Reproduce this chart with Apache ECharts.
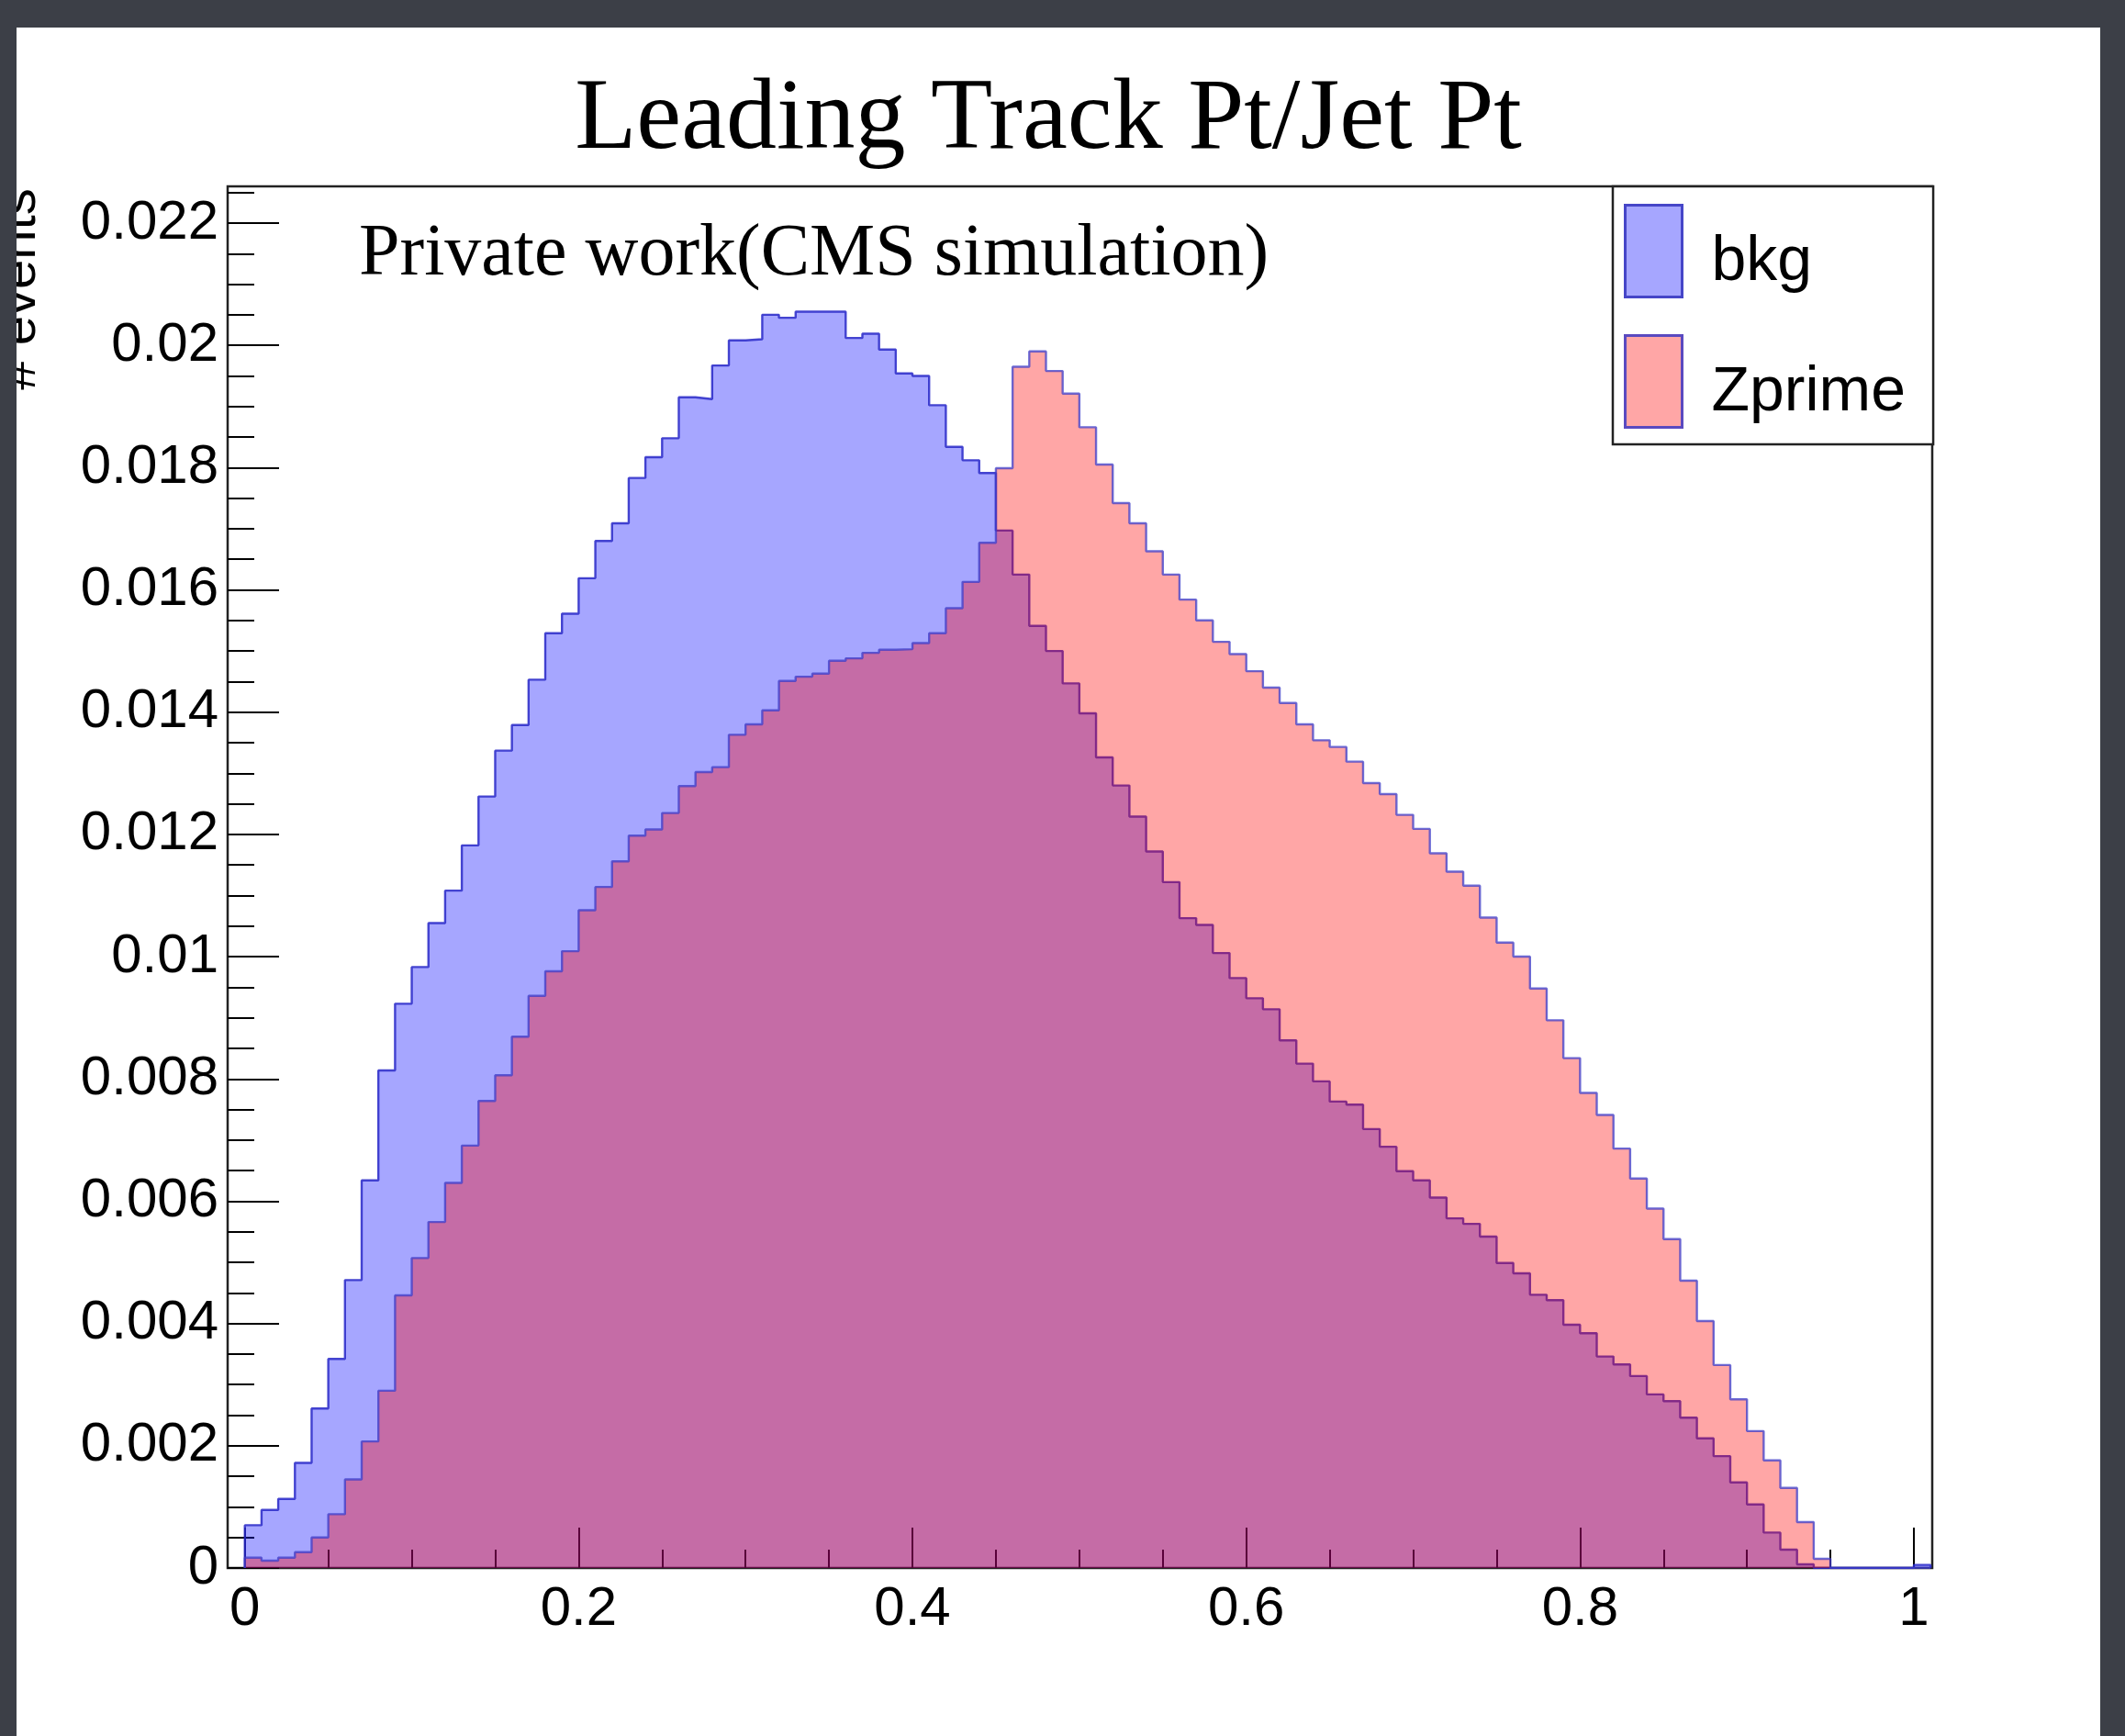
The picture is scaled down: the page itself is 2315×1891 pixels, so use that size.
<!DOCTYPE html>
<html><head><meta charset="utf-8">
<script src="https://cdn.jsdelivr.net/npm/echarts@6/dist/echarts.min.js"></script>
<style>html,body{margin:0;padding:0;background:#fff}#chart{width:2315px;height:1891px}</style>
</head><body><div id="chart"></div>
<script>
// histogram: 101 bins of width 0.01 starting at 0 (last bin is 1.00-1.01)
const binWidth = 0.01;
const bkg = [0.0007,0.00095,0.00113,0.00172,0.00261,0.00342,0.00471,0.00634,0.00814,0.00923,
0.00983,0.01055,0.01108,0.01182,0.01262,0.01337,0.01379,0.01453,0.01529,0.01561,
0.01619,0.0168,0.01709,0.01783,0.01817,0.01848,0.01915,0.01912,0.01967,0.02008,
0.0201,0.0205,0.02045,0.02055,0.02055,0.02055,0.02012,0.02019,0.01993,0.01954,
0.0195,0.01902,0.01834,0.01812,0.01791,0.01697,0.01625,0.01541,0.015,0.01447,
0.01398,0.01326,0.0128,0.01229,0.01172,0.01122,0.01063,0.01052,0.01006,0.00965,
0.00932,0.00914,0.00863,0.00825,0.00796,0.00763,0.00758,0.00718,0.00689,0.00649,
0.00634,0.00606,0.00572,0.00563,0.00542,0.00499,0.00482,0.00447,0.00438,0.00398,
0.00384,0.00346,0.00333,0.00314,0.00284,0.00273,0.00246,0.00212,0.00183,0.0014,
0.00104,0.00058,0.0003,0.00006,0,0,0,0,0,0,
0.00005];
const zprime = [0.00017,0.00012,0.00017,0.00026,0.0005,0.00088,0.00145,0.00207,0.0029,0.00446,
0.00507,0.00566,0.0063,0.00691,0.00764,0.00806,0.00869,0.00936,0.00976,0.01009,
0.01076,0.01114,0.01156,0.01198,0.01208,0.01235,0.01279,0.01302,0.0131,0.01363,
0.0138,0.01403,0.01451,0.01458,0.01463,0.01484,0.01488,0.01497,0.01502,0.01503,
0.01513,0.01529,0.0157,0.01613,0.01677,0.01799,0.01965,0.0199,0.01958,0.01921,
0.01866,0.01805,0.01742,0.01709,0.01663,0.01625,0.01584,0.0155,0.01515,0.01495,
0.01467,0.0144,0.01415,0.0138,0.01354,0.01343,0.01319,0.01284,0.01266,0.01232,
0.01209,0.01169,0.01139,0.01116,0.01064,0.01023,0.01,0.00948,0.00896,0.00834,
0.00777,0.00741,0.00686,0.00637,0.00588,0.00538,0.0047,0.00404,0.00332,0.00276,
0.00224,0.00176,0.00131,0.00075,0.00015,0,0,0,0,0,
0];
const xMajorTicks = [0, 0.2, 0.4, 0.6, 0.8, 1];
const xMinorTicks = [0.05,0.1,0.15,0.25,0.3,0.35,0.45,0.5,0.55,0.65,0.7,0.75,0.85,0.9,0.95];
const yMajorTicks = [0,0.002,0.004,0.006,0.008,0.01,0.012,0.014,0.016,0.018,0.02,0.022];
const yMinorTicks = [];
yMajorTicks.forEach(t => { for (let k = 1; k <= 3; k++) yMinorTicks.push(+(t + k * 0.0005).toFixed(5)); });
yMinorTicks.push(0.0225);

function toSteps(vals) {
  const pts = [[0, 0]];
  vals.forEach((v, i) => pts.push([+(i * binWidth).toFixed(2), v]));
  pts.push([+(vals.length * binWidth).toFixed(2), 0]);
  return pts;
}
const fmt = v => (v === 0 ? '0' : String(+(+v).toFixed(4)));
const SANS = '"Liberation Sans", Arial, sans-serif';
const SERIF = '"Liberation Serif", "Times New Roman", serif';
const X_MIN = -0.0103, X_MAX = 1.011, Y_MAX = 0.0226;

const chart = echarts.init(document.getElementById('chart'), null, {renderer: 'canvas'});
chart.setOption({
  animation: false,
  backgroundColor: '#ffffff',
  grid: {left: 248, top: 203, width: 1857, height: 1505, show: true, borderColor: '#222', borderWidth: 2.5, backgroundColor: 'transparent', containLabel: false},
  xAxis: [
    {type: 'value', min: X_MIN, max: X_MAX, position: 'bottom', splitLine: {show: false}, axisLine: {show: false, onZero: false},
     axisTick: {show: true, inside: true, length: 44, customValues: xMajorTicks, lineStyle: {color: '#000', width: 2}},
     axisLabel: {show: true, customValues: xMajorTicks, formatter: fmt, margin: 15, fontFamily: SANS, fontSize: 60, color: '#000'}},
    {type: 'value', min: X_MIN, max: X_MAX, position: 'bottom', splitLine: {show: false}, axisLine: {show: false, onZero: false},
     axisTick: {show: true, inside: true, length: 20, customValues: xMinorTicks, lineStyle: {color: '#000', width: 2}},
     axisLabel: {show: false}}
  ],
  yAxis: [
    {type: 'value', min: 0, max: Y_MAX, position: 'left', splitLine: {show: false}, axisLine: {show: false, onZero: false},
     axisTick: {show: true, inside: true, length: 56, customValues: yMajorTicks, lineStyle: {color: '#000', width: 2}},
     axisLabel: {show: true, customValues: yMajorTicks, formatter: fmt, margin: 10, fontFamily: SANS, fontSize: 60, color: '#000'}},
    {type: 'value', min: 0, max: Y_MAX, position: 'left', offset: 0, splitLine: {show: false}, axisLine: {show: false, onZero: false},
     axisTick: {show: true, inside: true, length: 29, customValues: yMinorTicks, lineStyle: {color: '#000', width: 2}},
     axisLabel: {show: false}}
  ],
  legend: {
    orient: 'vertical', left: 1757, top: 203, selectedMode: false,
    padding: [19, 30, 17, 12], itemWidth: 62, itemHeight: 100, itemGap: 39,
    backgroundColor: '#fff', borderColor: '#222', borderWidth: 2.5,
    formatter: '{t|{name}}',
    textStyle: {fontFamily: SANS, fontSize: 68, color: '#000', padding: [0, 0, 0, 27],
      rich: {t: {fontFamily: SANS, fontSize: 68, color: '#000', padding: [25, 0, 0, 0]}}},
    data: [
      {name: 'bkg', icon: 'rect', itemStyle: {color: 'rgba(0,0,255,0.35)', borderColor: '#4646c8', borderWidth: 3}},
      {name: 'Zprime', icon: 'rect', itemStyle: {color: 'rgba(255,0,0,0.35)', borderColor: '#5a4ac0', borderWidth: 3}}
    ]
  },
  series: [
    {name: 'bkg', type: 'line', step: 'end', xAxisIndex: 0, yAxisIndex: 0, data: toSteps(bkg), showSymbol: false, symbol: 'none',
     lineStyle: {color: 'rgba(40,40,200,0.85)', width: 2.4}, itemStyle: {color: 'rgba(0,0,255,0.35)'},
     areaStyle: {color: 'rgba(0,0,255,0.35)', opacity: 1}, z: 2},
    {name: 'Zprime', type: 'line', step: 'end', xAxisIndex: 0, yAxisIndex: 0, data: toSteps(zprime), showSymbol: false, symbol: 'none',
     lineStyle: {color: 'rgba(60,60,200,0.75)', width: 2.4}, itemStyle: {color: 'rgba(255,0,0,0.35)'},
     areaStyle: {color: 'rgba(255,0,0,0.35)', opacity: 1}, z: 3}
  ],
  graphic: [
    {type: 'text', x: 1142, y: 132, z: 50,
     style: {text: 'Leading Track Pt/Jet Pt', font: '110px ' + SERIF, fill: '#000', textAlign: 'center', align: 'center', textVerticalAlign: 'middle', verticalAlign: 'middle'}},
    {type: 'text', x: 391, y: 278, z: 50,
     style: {text: 'Private work(CMS simulation)', font: '80px ' + SERIF, fill: '#000', textAlign: 'left', align: 'left', textVerticalAlign: 'middle', verticalAlign: 'middle'}},
    {type: 'text', x: 22, y: 315, rotation: Math.PI / 2, z: 50,
     style: {text: '# events', font: '58px ' + SANS, fill: '#000', textAlign: 'center', align: 'center', textVerticalAlign: 'middle', verticalAlign: 'middle'}},
    {type: 'rect', z: 100, shape: {x: 0, y: 0, width: 18, height: 1891}, style: {fill: '#3c3f47'}},
    {type: 'rect', z: 100, shape: {x: 0, y: 0, width: 2315, height: 30}, style: {fill: '#3c3f47'}},
    {type: 'rect', z: 100, shape: {x: 2288, y: 0, width: 27, height: 1891}, style: {fill: '#3c3f47'}}
  ]
});
</script>
</body></html>
